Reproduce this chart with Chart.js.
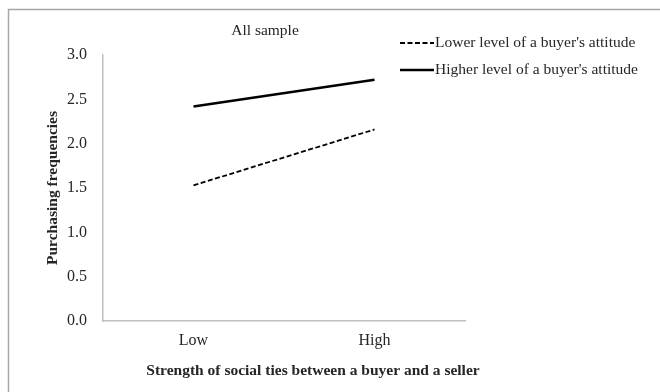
<!DOCTYPE html>
<html>
<head>
<meta charset="utf-8">
<script src="https://cdn.jsdelivr.net/npm/chart.js@4"></script>
<style>
  html, body { margin: 0; padding: 0; background: #fff; }
  #wrap { width: 660px; height: 392px; }
</style>
</head>
<body>
<div id="wrap"><canvas id="chart" width="660" height="392"></canvas></div>
<script>
// data
const categories = ["Low", "High"];
const lowerAttitude = [1.53, 2.16];
const higherAttitude = [2.42, 2.72];
const yTicks = [0, 0.5, 1.0, 1.5, 2.0, 2.5, 3.0];
const seriesNames = ["Lower level of a buyer's attitude", "Higher level of a buyer's attitude"];
const chartTitle = "All sample";
const xTitle = "Strength of social ties between a buyer and a seller";
const yTitle = "Purchasing frequencies";

const serif = "'Liberation Serif', 'Times New Roman', serif";
const textColor = "#262626";

// frame, titles and legend drawn by hand
const decorations = {
  id: "decorations",
  beforeDraw(chart) {
    const ctx = chart.ctx;
    ctx.save();
    ctx.fillStyle = "#fff";
    ctx.fillRect(0, 0, chart.width, chart.height);
    ctx.strokeStyle = "#a6a6a6";
    ctx.lineWidth = 1.5;
    ctx.beginPath();
    ctx.moveTo(8.5, chart.height);
    ctx.lineTo(8.5, 9.5);
    ctx.lineTo(chart.width, 9.5);
    ctx.stroke();
    ctx.restore();
  },
  afterDraw(chart) {
    const ctx = chart.ctx;
    const area = chart.chartArea;
    ctx.save();
    ctx.fillStyle = textColor;
    ctx.textBaseline = "middle";

    // chart title
    ctx.font = "15.5px " + serif;
    ctx.textAlign = "center";
    ctx.fillText(chartTitle, 265, 31);

    // x axis title
    ctx.font = "bold 15.5px " + serif;
    ctx.fillText(xTitle, 313, 371);

    // y axis title
    ctx.save();
    ctx.translate(53, (area.top + area.bottom) / 2);
    ctx.rotate(-Math.PI / 2);
    ctx.fillText(yTitle, 0, 0);
    ctx.restore();

    // legend
    ctx.font = "15.5px " + serif;
    ctx.textAlign = "left";
    chart.data.datasets.forEach((ds, i) => {
      const y = 43 + i * 27;
      ctx.save();
      ctx.strokeStyle = ds.borderColor;
      ctx.lineWidth = ds.borderWidth;
      ctx.setLineDash(ds.borderDash || []);
      ctx.beginPath();
      ctx.moveTo(400, y);
      ctx.lineTo(434, y);
      ctx.stroke();
      ctx.restore();
      ctx.fillText(ds.label, 435, y);
    });
    ctx.restore();
  }
};

const ctx = document.getElementById("chart").getContext("2d");
const chart = new Chart(ctx, {
  type: "line",
  data: {
    labels: categories,
    datasets: [
      {
        label: seriesNames[0],
        data: lowerAttitude,
        borderColor: "#000",
        borderWidth: 1.8,
        borderDash: [5, 2.5],
        pointRadius: 0,
        fill: false,
      },
      {
        label: seriesNames[1],
        data: higherAttitude,
        borderColor: "#000",
        borderWidth: 2.5,
        pointRadius: 0,
        fill: false,
      },
    ],
  },
  options: {
    responsive: false,
    animation: false,
    layout: {
      padding: { left: 0, right: 195, top: 55, bottom: 0 },
    },
    scales: {
      x: {
        offset: true,
        grid: { display: false, drawTicks: false },
        border: { display: true, color: "#bfbfbf", width: 1.5 },
        ticks: {
          padding: 10,
          color: textColor,
          font: { family: serif, size: 16 },
        },
        afterFit: function (scale) {
          scale.height = 71;
        },
      },
      y: {
        min: 0,
        max: 3,
        grid: { display: false, drawTicks: false },
        border: { display: true, color: "#bfbfbf", width: 1.5 },
        afterBuildTicks: function (scale) {
          scale.ticks = yTicks.map((v) => ({ value: v }));
        },
        ticks: {
          padding: 16,
          color: textColor,
          font: { family: serif, size: 16 },
          callback: function (value) {
            return Number(value).toFixed(1);
          },
        },
        afterFit: function (scale) {
          scale.width = 103;
        },
      },
    },
    plugins: {
      legend: { display: false },
      title: { display: false },
      tooltip: { enabled: false },
    },
  },
  plugins: [decorations],
});
</script>
</body>
</html>
